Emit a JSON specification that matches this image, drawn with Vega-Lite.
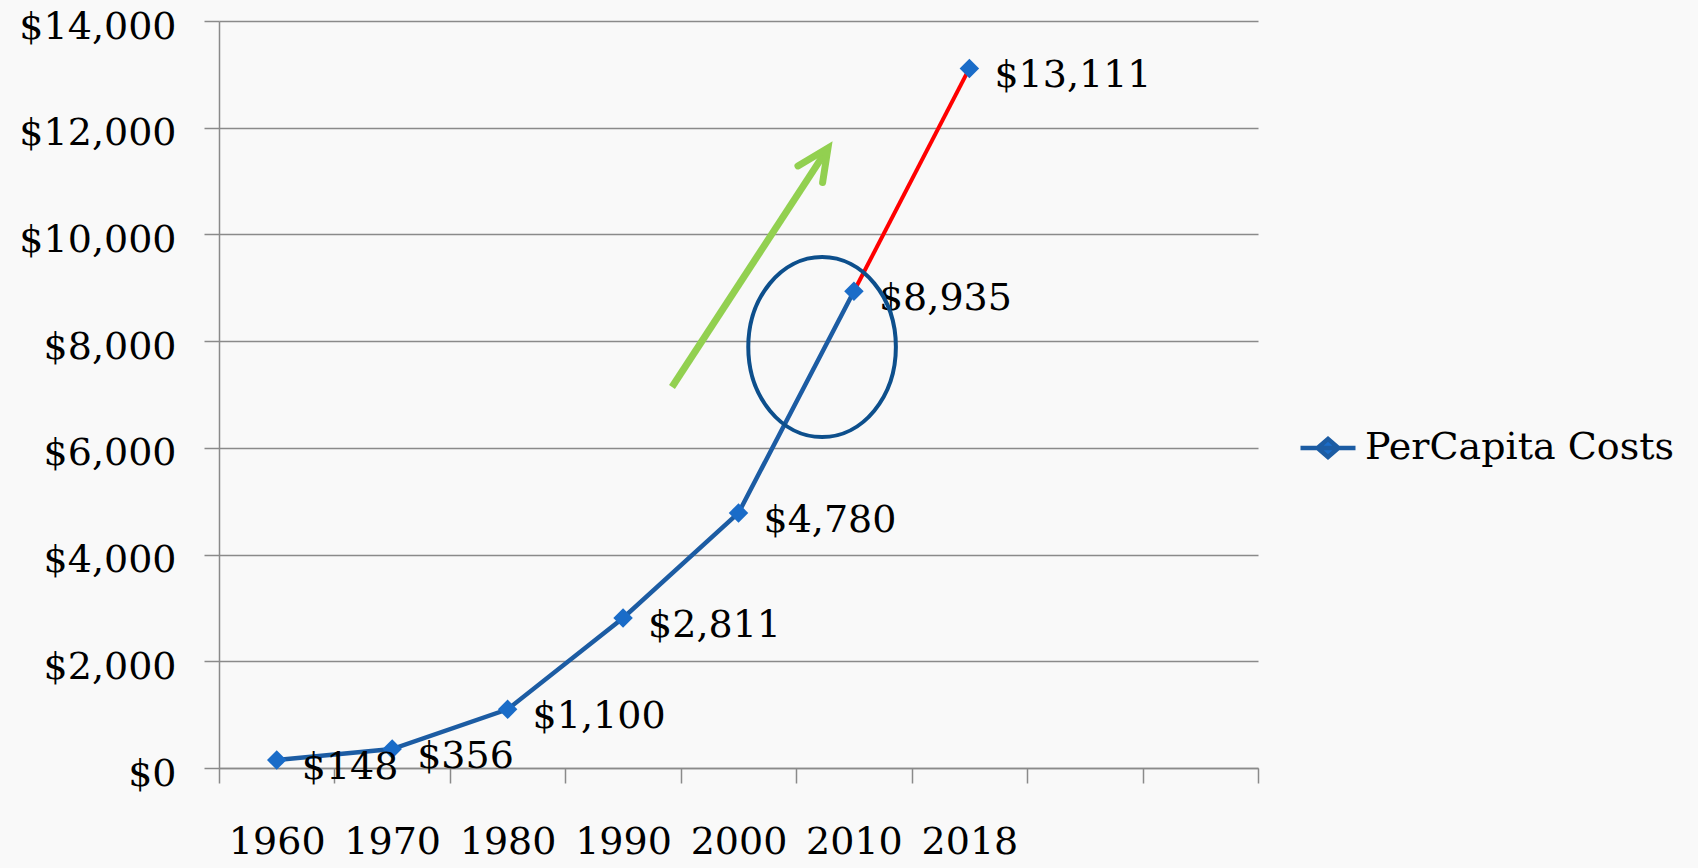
{
  "$schema": "https://vega.github.io/schema/vega-lite/v6.json",
  "autosize": "none",
  "width": 1039,
  "height": 747,
  "padding": {"left": 219, "top": 21, "right": 440, "bottom": 100},
  "background": "#f9f9f9",
  "config": {
    "font": "DejaVu Serif",
    "view": {"stroke": null},
    "axis": {"labelFont": "DejaVu Serif", "labelFontSize": 38, "labelColor": "#000000", "domainColor": "#8a8a8a", "tickColor": "#8a8a8a", "gridColor": "#8a8a8a", "domainWidth": 1.5, "tickWidth": 1.5, "gridWidth": 1.5, "title": null}
  },
  "datasets": {
    "costs": [
      {"year": "1960", "cost": 148},
      {"year": "1970", "cost": 356},
      {"year": "1980", "cost": 1100},
      {"year": "1990", "cost": 2811},
      {"year": "2000", "cost": 4780},
      {"year": "2010", "cost": 8935},
      {"year": "2018", "cost": 13111}
    ],
    "blue": [
      {"year": "1960", "cost": 148, "series": "PerCapita Costs"},
      {"year": "1970", "cost": 356, "series": "PerCapita Costs"},
      {"year": "1980", "cost": 1100, "series": "PerCapita Costs"},
      {"year": "1990", "cost": 2811, "series": "PerCapita Costs"},
      {"year": "2000", "cost": 4780, "series": "PerCapita Costs"},
      {"year": "2010", "cost": 8935, "series": "PerCapita Costs"}
    ],
    "red": [
      {"year": "2010", "cost": 8935},
      {"year": "2018", "cost": 13111}
    ]
  },
  "layer": [
    {
      "layer": [
        {
          "data": {"name": "blue"},
          "mark": {"type": "line", "strokeWidth": 4.5},
          "encoding": {
            "x": {"field": "year", "type": "nominal", "sort": null,
                  "scale": {"type": "band", "domain": ["1960","1970","1980","1990","2000","2010","2018"," ","  "], "paddingInner": 0, "paddingOuter": 0},
                  "axis": {"tickBand": "extent", "tickSize": 15, "labelPadding": 40, "labelAngle": 0, "grid": false}},
            "y": {"field": "cost", "type": "quantitative",
                  "scale": {"domain": [0, 14000], "nice": false},
                  "axis": {"values": [0,2000,4000,6000,8000,10000,12000,14000], "format": "$,.0f", "tickSize": 15, "labelPadding": 28, "labelOffset": 6, "labelFlush": false, "grid": true}},
            "color": {"field": "series", "type": "nominal",
                      "scale": {"domain": ["PerCapita Costs"], "range": ["#1c5ca3"]},
                      "legend": {"title": null, "orient": "none", "legendX": 1079, "legendY": 397, "padding": 0,
                                 "labelFont": "DejaVu Serif", "labelFontSize": 38, "labelColor": "#000000", "labelOffset": 7, "labelLimit": 0,
                                 "symbolType": "M -1 0 L 1 0 M 0 -0.33 L 0.38 0 L 0 0.33 L -0.38 0 Z",
                                 "symbolSize": 3025, "symbolStrokeWidth": 4.5, "symbolStrokeColor": "#1c5ca3", "symbolFillColor": "#1a6cc8"}}
          }
        },
        {
          "data": {"name": "red"},
          "mark": {"type": "line", "strokeWidth": 4, "color": "#ff0000"},
          "encoding": {
            "x": {"field": "year", "type": "nominal", "sort": null},
            "y": {"field": "cost", "type": "quantitative"}
          }
        },
        {
          "data": {"name": "costs"},
          "mark": {"type": "point", "shape": "diamond", "filled": true, "size": 380, "color": "#1a6cc8", "opacity": 1},
          "encoding": {
            "x": {"field": "year", "type": "nominal", "sort": null},
            "y": {"field": "cost", "type": "quantitative"}
          }
        },
        {
          "data": {"name": "costs"},
          "mark": {"type": "text", "align": "left", "baseline": "middle", "dx": 25, "dy": 8, "fontSize": 38, "font": "DejaVu Serif", "color": "#000000"},
          "encoding": {
            "x": {"field": "year", "type": "nominal", "sort": null},
            "y": {"field": "cost", "type": "quantitative"},
            "text": {"field": "cost", "type": "quantitative", "format": "$,.0f"}
          }
        }
      ]
    },
    {
      "data": {"values": [{}]},
      "layer": [
        {
          "mark": {"type": "rule", "color": "#92d050", "strokeWidth": 7, "strokeCap": "butt"},
          "encoding": {
            "x": {"datum": 3.924, "type": "quantitative", "scale": {"domain": [0, 9], "nice": false, "zero": false}, "axis": null},
            "y": {"datum": 7140, "type": "quantitative"},
            "x2": {"datum": 5.275},
            "y2": {"datum": 11619}
          }
        },
        {
          "mark": {"type": "point", "shape": "M -0.47 1 L 0 0 L 0.47 1", "size": 4000, "filled": false, "color": "#92d050", "strokeWidth": 7, "strokeCap": "round", "strokeJoin": "miter", "angle": 34, "opacity": 1},
          "encoding": {
            "x": {"datum": 5.275, "type": "quantitative"},
            "y": {"datum": 11619, "type": "quantitative"}
          }
        },
        {
          "mark": {"type": "point", "shape": "M -0.82 0 A 0.82 1 0 1 0 0.82 0 A 0.82 1 0 1 0 -0.82 0 Z", "size": 32400, "filled": false, "color": "#0d4f8c", "strokeWidth": 4, "opacity": 1},
          "encoding": {
            "x": {"datum": 5.224, "type": "quantitative"},
            "y": {"datum": 7890, "type": "quantitative"}
          }
        }
      ]
    }
  ],
  "resolve": {"scale": {"x": "independent"}}
}
